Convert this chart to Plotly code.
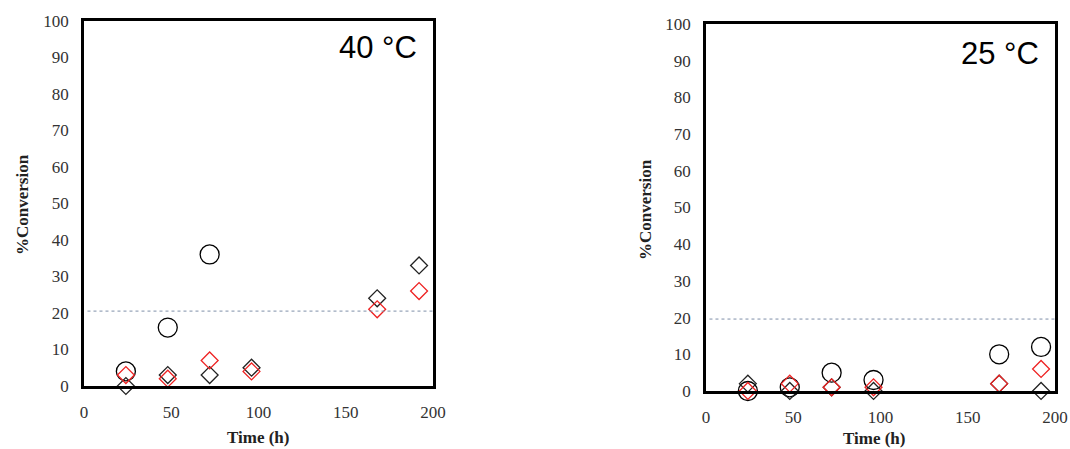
import plotly.graph_objects as go

time_h = [24, 48, 72, 96, 168, 192]

# 40 °C panel
circ40_t = [24, 48, 72]
circ40 = [4, 16, 36]
blk40 = [0, 3, 3, 5, 24, 33]
red40 = [3, 2, 7, 4, 21, 26]
ref40 = 20.5

# 25 °C panel
circ25 = [0, 1, 5, 3, 10, 12]
blk25 = [2, 0, 1, 0, 2, 0]
red25 = [0, 2, 1, 1, 2, 6]
ref25 = 19.6

x_ticks = [0, 50, 100, 150, 200]
y_ticks = list(range(0, 101, 10))

fig = go.Figure()

def add_panel(xa, ya, ct, cv, bv, rv):
    fig.add_trace(go.Scatter(x=ct, y=cv, mode="markers", xaxis=xa, yaxis=ya, cliponaxis=False,
                             marker=dict(symbol="circle-open", size=19, color="black", line=dict(width=1.3, color="black")),
                             showlegend=False))
    fig.add_trace(go.Scatter(x=time_h, y=bv, mode="markers", xaxis=xa, yaxis=ya, cliponaxis=False,
                             marker=dict(symbol="diamond-open", size=13, color="#222", line=dict(width=1.3, color="#222")),
                             showlegend=False))
    fig.add_trace(go.Scatter(x=time_h, y=rv, mode="markers", xaxis=xa, yaxis=ya, cliponaxis=False,
                             marker=dict(symbol="diamond-open", size=13, color="#ee2222", line=dict(width=1.3, color="#ee2222")),
                             showlegend=False))

add_panel("x", "y", circ40_t, circ40, blk40, red40)
add_panel("x2", "y2", time_h, circ25, blk25, red25)

tickfont = dict(family="Liberation Serif", size=17, color="#333")
axcommon = dict(showgrid=False, zeroline=False, showline=True, mirror=True, linecolor="black", linewidth=2.5,
                ticks="", tickfont=tickfont, ticklabelstandoff=9, automargin=False)

fig.update_layout(
    width=1070, height=449, autosize=False, margin=dict(l=0, r=0, t=0, b=0, pad=0),
    paper_bgcolor="white", plot_bgcolor="white",
    xaxis=dict(domain=[0.0785, 0.4047], range=[0, 200], tickvals=x_ticks, anchor="y", **axcommon),
    yaxis=dict(domain=[0.1403, 0.954], range=[0, 100], tickvals=y_ticks, anchor="x", **axcommon),
    xaxis2=dict(domain=[0.6598, 0.986], range=[0, 200], tickvals=x_ticks, anchor="y2", **axcommon),
    yaxis2=dict(domain=[0.1292, 0.9465], range=[0, 100], tickvals=y_ticks, anchor="x2", **axcommon),
)

# reference dotted lines
fig.add_shape(type="line", xref="x", yref="y", x0=2, x1=200, y0=ref40, y1=ref40,
              line=dict(color="#7f8fa8", width=1, dash="dot"))
fig.add_shape(type="line", xref="x2", yref="y2", x0=2, x1=200, y0=ref25, y1=ref25,
              line=dict(color="#7f8fa8", width=1, dash="dot"))

titlefont = dict(family="Liberation Serif", size=17, color="#222")

def ann(text, px, py, angle=0, font=titlefont):
    fig.add_annotation(text=text, x=px / 1070, y=1 - py / 449, xref="paper", yref="paper", showarrow=False,
                       textangle=angle, font=font, xanchor="center", yanchor="middle")

ann("<b>%Conversion</b>", 22, 205, -90)
ann("<b>Time (h)</b>", 258, 437)
ann("<b>%Conversion</b>", 645, 210, -90)
ann("<b>Time (h)</b>", 874, 438)

tempfont = dict(family="Liberation Sans", size=31, color="black")
ann("40 °C", 378, 48, 0, tempfont)
ann("25 °C", 1000, 53, 0, tempfont)

fig.write_html("out.html")
